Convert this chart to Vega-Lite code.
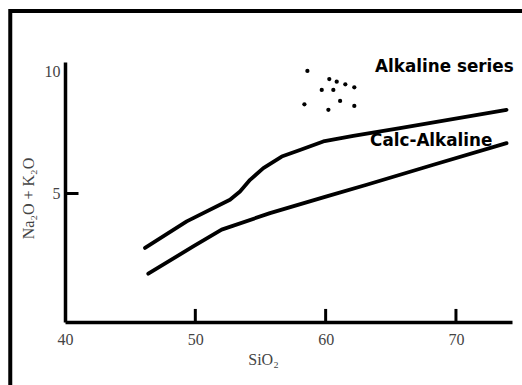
{
  "$schema": "https://vega.github.io/schema/vega-lite/v6.json",
  "width": 447,
  "height": 260,
  "autosize": {"type": "none"},
  "padding": {"left": 65, "top": 62, "right": 10, "bottom": 63},
  "background": "white",
  "config": {"view": {"stroke": null}},
  "datasets": {
    "lines": [
      {"series": "upper", "SiO2": 46.14, "alk": 2.75},
      {"series": "upper", "SiO2": 49.34, "alk": 3.84},
      {"series": "upper", "SiO2": 52.66, "alk": 4.73},
      {"series": "upper", "SiO2": 53.43, "alk": 5.07},
      {"series": "upper", "SiO2": 54.2, "alk": 5.55},
      {"series": "upper", "SiO2": 55.22, "alk": 6.03},
      {"series": "upper", "SiO2": 56.63, "alk": 6.51},
      {"series": "upper", "SiO2": 58.03, "alk": 6.78},
      {"series": "upper", "SiO2": 59.82, "alk": 7.13},
      {"series": "upper", "SiO2": 62.12, "alk": 7.36},
      {"series": "upper", "SiO2": 65.71, "alk": 7.68},
      {"series": "upper", "SiO2": 73.88, "alk": 8.43},
      {"series": "lower", "SiO2": 46.39, "alk": 1.69},
      {"series": "lower", "SiO2": 49.84, "alk": 2.81},
      {"series": "lower", "SiO2": 52.02, "alk": 3.5},
      {"series": "lower", "SiO2": 55.73, "alk": 4.18},
      {"series": "lower", "SiO2": 60.08, "alk": 4.87},
      {"series": "lower", "SiO2": 63.15, "alk": 5.35},
      {"series": "lower", "SiO2": 68.27, "alk": 6.17},
      {"series": "lower", "SiO2": 73.88, "alk": 7.06}
    ],
    "samples": [
      {"SiO2": 58.6, "alk": 10.03},
      {"SiO2": 60.28, "alk": 9.7},
      {"SiO2": 60.85, "alk": 9.59},
      {"SiO2": 61.51, "alk": 9.48},
      {"SiO2": 62.2, "alk": 9.36},
      {"SiO2": 59.7, "alk": 9.25},
      {"SiO2": 60.59, "alk": 9.25},
      {"SiO2": 58.37, "alk": 8.66},
      {"SiO2": 61.11, "alk": 8.8},
      {"SiO2": 60.21, "alk": 8.43},
      {"SiO2": 62.2, "alk": 8.59}
    ],
    "labels": [
      {"label": "Alkaline series", "SiO2": 63.79, "alk": 10.19},
      {"label": "Calc-Alkaline", "SiO2": 63.41, "alk": 7.13}
    ],
    "xticks": [
      {"SiO2": 50},
      {"SiO2": 60},
      {"SiO2": 70}
    ]
  },
  "layer": [
    {
      "data": {"name": "lines"},
      "mark": {"type": "line", "color": "black", "strokeWidth": 3.8, "strokeCap": "round", "strokeJoin": "round"},
      "encoding": {
        "x": {
          "field": "SiO2",
          "type": "quantitative",
          "scale": {"domain": [40, 74.3], "nice": false, "zero": false},
          "axis": {
            "title": "SiO₂",
            "values": [40, 50, 60, 70],
            "grid": false,
            "ticks": false,
            "domainColor": "black",
            "domainWidth": 3.5,
            "labelFlush": false,
            "labelPadding": 9,
            "labelFont": "Liberation Serif",
            "labelFontSize": 16,
            "labelColor": "#444444",
            "titleFont": "Liberation Serif",
            "titleFontSize": 16,
            "titleFontWeight": "normal",
            "titleColor": "#444444",
            "titleX": 198,
            "titlePadding": 4
          }
        },
        "y": {
          "field": "alk",
          "type": "quantitative",
          "scale": {"domain": [-0.3, 10.4], "nice": false, "zero": false},
          "axis": {
            "title": "Na₂O + K₂O",
            "values": [5, 10],
            "grid": false,
            "domainColor": "black",
            "domainWidth": 3.5,
            "tickColor": "black",
            "tickWidth": 3,
            "tickSize": -13,
            "tickOpacity": {"condition": {"test": "datum.value == 10", "value": 0}, "value": 1},
            "labelFlush": false,
            "labelPadding": 18,
            "labelFont": "Liberation Serif",
            "labelFontSize": 16,
            "labelColor": "#444444",
            "titleFont": "Liberation Serif",
            "titleFontSize": 16,
            "titleFontWeight": "normal",
            "titleColor": "#444444",
            "titleY": 136,
            "titlePadding": 8
          }
        },
        "detail": {"field": "series"}
      }
    },
    {
      "data": {"name": "xticks"},
      "mark": {"type": "tick", "orient": "vertical", "color": "black", "size": 13, "thickness": 3, "opacity": 1, "clip": false},
      "encoding": {
        "x": {"field": "SiO2", "type": "quantitative"},
        "y": {"datum": -0.03, "type": "quantitative"}
      }
    },
    {
      "data": {"name": "samples"},
      "mark": {"type": "circle", "color": "black", "size": 18, "opacity": 1},
      "encoding": {
        "x": {"field": "SiO2", "type": "quantitative"},
        "y": {"field": "alk", "type": "quantitative"}
      }
    },
    {
      "data": {"name": "labels"},
      "mark": {"type": "text", "align": "left", "baseline": "middle", "font": "DejaVu Sans", "fontWeight": "bold", "fontSize": 16.8, "color": "black"},
      "encoding": {
        "x": {"field": "SiO2", "type": "quantitative"},
        "y": {"field": "alk", "type": "quantitative"},
        "text": {"field": "label"}
      }
    },
    {
      "data": {"values": [{}]},
      "mark": {"type": "rect", "filled": false, "stroke": "black", "strokeWidth": 4, "clip": false},
      "encoding": {
        "x": {"datum": 35.8, "type": "quantitative"},
        "x2": {"datum": 80},
        "y": {"datum": 12.5, "type": "quantitative"},
        "y2": {"datum": -6}
      }
    }
  ]
}
